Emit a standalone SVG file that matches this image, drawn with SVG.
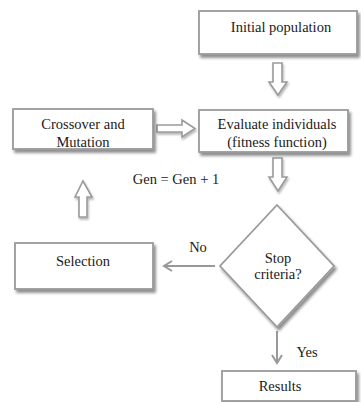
<svg xmlns="http://www.w3.org/2000/svg" width="361" height="402" viewBox="0 0 361 402">
<style>
.box{fill:#fff;stroke:#9a9a9a;stroke-width:1.8;filter:url(#sh)}
.harrow{fill:#fff;stroke:#9a9a9a;stroke-width:1.6;filter:url(#sh2)}
.t{font-family:"Liberation Serif","Times New Roman",serif;font-size:14.5px;fill:#1a1a1a;text-anchor:middle}
.line{stroke:#999;stroke-width:2;fill:none}
</style>
<defs>
<filter id="sh" x="-10%" y="-10%" width="130%" height="140%">
<feGaussianBlur in="SourceAlpha" stdDeviation="1.5"/>
<feOffset dx="2" dy="2.5" result="b"/>
<feComponentTransfer><feFuncA type="linear" slope="0.45"/></feComponentTransfer>
<feMerge><feMergeNode/><feMergeNode in="SourceGraphic"/></feMerge>
</filter>
<filter id="sh2" x="-30%" y="-30%" width="160%" height="160%">
<feGaussianBlur in="SourceAlpha" stdDeviation="1"/>
<feOffset dx="1" dy="1.5" result="b"/>
<feComponentTransfer><feFuncA type="linear" slope="0.3"/></feComponentTransfer>
<feMerge><feMergeNode/><feMergeNode in="SourceGraphic"/></feMerge>
</filter>
<marker id="ah2" viewBox="0 0 12 12" refX="10" refY="6" markerWidth="12" markerHeight="12" orient="auto" markerUnits="userSpaceOnUse">
<path d="M2,1 L10,6 L2,11" fill="none" stroke="#999" stroke-width="2"/>
</marker>
</defs>

<g id="connectors">
<path class="harrow" d="M273,63 H282 V82 H287 L278,95 L269,82 H273 Z"/>
<path class="harrow" d="M157,125 H182 V120 L195,128.5 L182,137 V132 H157 Z"/>
<path class="harrow" d="M273,158 H282 V177 H287 L278,191 L269,177 H273 Z"/>
<path class="harrow" d="M79,217 V197 H75 L83,181 L92,197 H87 V217 Z"/>
<path class="line" d="M215,266 H164" marker-end="url(#ah2)"/>
<path class="line" d="M277,331 V363" marker-end="url(#ah2)"/>
<text class="t" x="176" y="184">Gen = Gen + 1</text>
<text class="t" x="198" y="252">No</text>
<text class="t" x="307" y="357">Yes</text>
</g>

<g id="initial">
<rect class="box" x="199" y="11" width="158" height="43"/>
<text class="t" x="281" y="32">Initial population</text>
</g>

<g id="crossover">
<rect class="box" x="13" y="109" width="140" height="40"/>
<text class="t" x="83" y="129">Crossover and</text>
<text class="t" x="83" y="147">Mutation</text>
</g>

<g id="evaluate">
<rect class="box" x="199" y="110" width="149" height="42"/>
<text class="t" x="277" y="129">Evaluate individuals</text>
<text class="t" x="277" y="147">(fitness function)</text>
</g>

<g id="selection">
<rect class="box" x="15" y="243" width="138" height="46"/>
<text class="t" x="83" y="266">Selection</text>
</g>

<g id="stop">
<polygon class="box" points="277,205 334,266 277,327 220,266"/>
<text class="t" x="278" y="263">Stop</text>
<text class="t" x="278" y="279">criteria?</text>
</g>

<g id="results">
<rect class="box" x="222" y="371" width="134" height="30"/>
<text class="t" x="280" y="391">Results</text>
</g>
</svg>
